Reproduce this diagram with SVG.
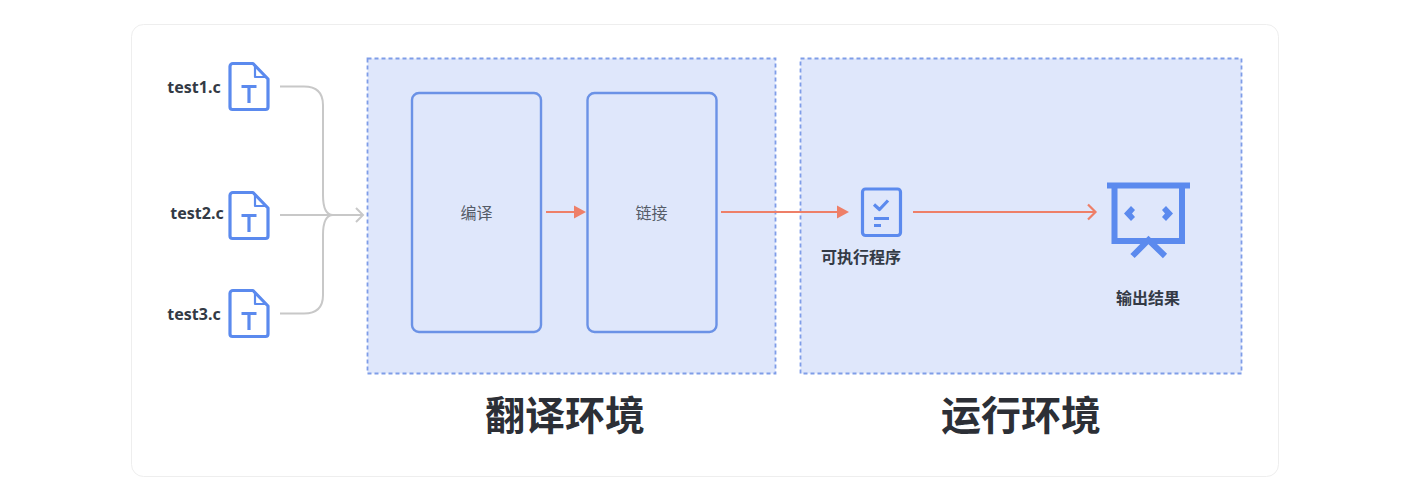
<svg xmlns="http://www.w3.org/2000/svg" width="1424" height="500" viewBox="0 0 1424 500">
<style>
text{font-family:"Noto Sans CJK SC","Noto Sans",sans-serif;fill:#333a45;text-anchor:middle}
.f{font-size:16px;font-weight:700;font-family:"Noto Sans","Noto Sans CJK SC",sans-serif}
.l{font-size:16px;font-weight:700}
.s{font-size:16px;font-weight:400;fill:#555c68}
.h{font-size:40px;font-weight:700;fill:#2c2f36}
.env{fill:#dfe7fb;stroke:#7f9de8;stroke-width:1.800;stroke-dasharray:4 3}
.box{fill:none;stroke:#6b92e6;stroke-width:2.400}
.ic{fill:none;stroke:#5b8aee;stroke-width:3.200;stroke-linejoin:round}
.thin{stroke-width:2.200}
.bar{fill:none;stroke:#5b8aee;stroke-width:6}
.gr{fill:none;stroke:#c8c8c8;stroke-width:2}
.or{fill:none;stroke:#ee7f68;stroke-width:2.200}
</style>
<defs>
<g id="doc">
<path class="ic" d="M2 4.500a3 3 0 0 1 3-3H25L40 17V45a2.500 2.500 0 0 1-2.500 2.500H4.500a2.500 2.500 0 0 1-2.500-2.500Z"/>
<path class="ic thin" d="M27 3V15H39"/>
<path class="ic" d="M13.500 24.500H28.500M21 24.500V41"/>
</g>
</defs>
<rect x="131.500" y="24.500" width="1147" height="452" rx="12" fill="#fff" stroke="#eeeeee"/>
<g id="env-translate"><rect class="env" x="367.500" y="58.500" width="408" height="315"/><text class="h" x="565" y="430">翻译环境</text></g>
<g id="env-run"><rect class="env" x="800.500" y="58.500" width="441" height="315"/><text class="h" x="1021" y="430">运行环境</text></g>
<g id="file1"><text class="f" x="194" y="93">test1.c</text><use href="#doc" x="228" y="62"/></g>
<g id="file2"><text class="f" x="197" y="219">test2.c</text><use href="#doc" x="228" y="191"/></g>
<g id="file3"><text class="f" x="194" y="320">test3.c</text><use href="#doc" x="228" y="289"/></g>
<g id="compile"><rect class="box" x="412" y="93" width="129" height="239" rx="7"/><text class="s" x="476.500" y="219">编译</text></g>
<g id="link"><rect class="box" x="587.500" y="93" width="129" height="239" rx="7"/><text class="s" x="651.500" y="219">链接</text></g>
<g id="program">
<rect class="ic" x="862.500" y="189" width="38" height="46.500" rx="3"/>
<path class="ic" d="M874 204.500l5.500 5 8.500-9M874 218.500h15M874 225.500h7"/>
<text class="l" x="861" y="263">可执行程序</text>
</g>
<g id="result">
<path class="bar" d="M1107 185.500H1190M1114.500 186V241H1182V186"/>
<path class="bar" d="M1132.500 256L1148.500 240L1165 256"/>
<path fill="#5b8aee" d="M1131 206l4 4-3 3.500 3 3.500-4 4-7-7.500ZM1166 206l-4 4 3 3.500-3 3.500 4 4 7-7.500Z"/>
<text class="l" x="1148" y="304">输出结果</text>
</g>
<g id="connectors">
<path class="gr" d="M280 86.500H304Q323 86.500 323 105V195Q323 215 333 215M280 215H363M356 208l7 7-7 7M280 313.500H304Q323 313.500 323 295V235Q323 215 333 215"/>
<path class="or" d="M546 212H575M721 212H838M913 212H1095M1088 204.500l7.500 7.500-7.500 7.500"/>
<path fill="#ee7f68" d="M574 205.500L586 212L574 218.500ZM837 205.500L849 212L837 218.500Z"/>
</g>
</svg>
